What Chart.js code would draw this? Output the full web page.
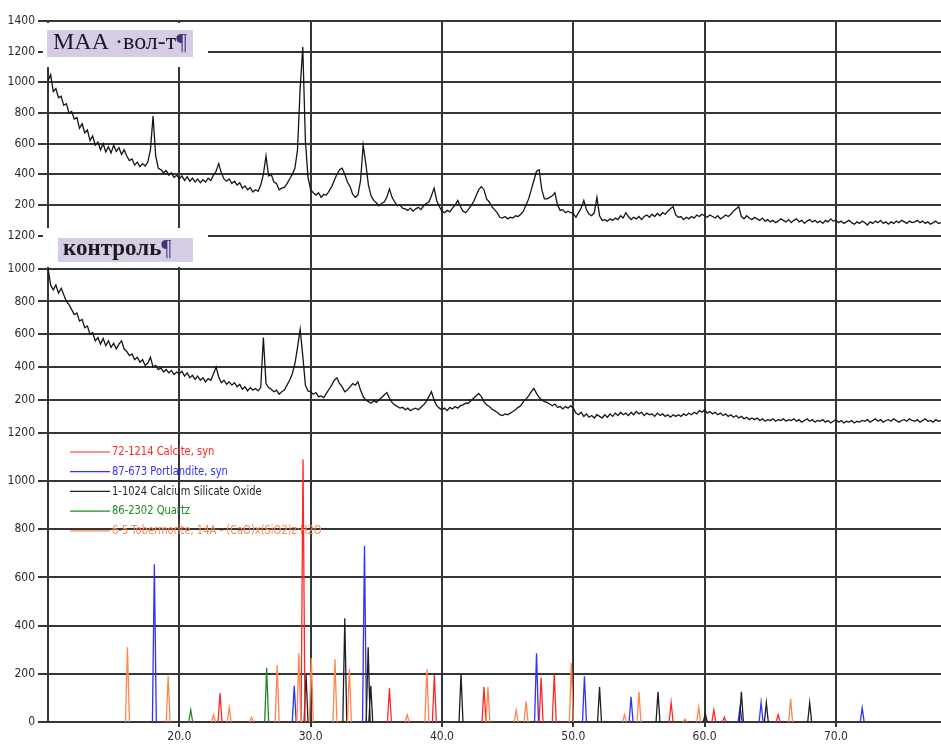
<!DOCTYPE html>
<html lang="ru">
<head>
<meta charset="utf-8">
<title>XRD</title>
<script src="https://cdn.jsdelivr.net/npm/chart.js@4.4.1/dist/chart.umd.min.js"></script>
<style>
  html, body { margin: 0; padding: 0; background: #ffffff; }
  #wrap { width: 941px; height: 749px; position: relative; }
  canvas { display: block; }
</style>
</head>
<body>
<div id="wrap"><canvas id="xrd" width="941" height="749"></canvas></div>
<script>
// ---- scan axis (2θ, degrees) ----
const scanStart = 10.0;
const scanStep = 0.2;

// ---- measured intensities, counts ----
const countsMaa = [
  1010,1050,940,960,900,910,850,860,800,810,
  760,770,700,730,670,690,620,650,590,610,
  560,600,545,580,540,590,550,575,530,560,
  520,490,500,460,480,450,470,455,480,560,
  780,520,440,430,410,425,395,410,380,395,
  370,390,360,385,355,375,350,370,345,365,
  350,375,360,395,420,470,410,370,355,370,
  340,355,330,345,310,325,300,315,285,300,
  290,330,400,520,390,400,350,340,300,310,
  315,340,370,400,440,560,960,1230,620,380,
  300,280,265,280,250,270,265,290,320,360,
  400,430,440,400,350,320,270,250,265,360,
  590,470,330,260,230,215,195,210,220,250,
  305,250,220,195,200,180,175,165,180,160,
  175,185,170,195,210,220,260,310,230,190,
  160,150,165,155,180,200,230,190,160,150,
  170,195,220,260,300,320,300,240,220,190,
  170,150,120,115,125,110,120,115,130,125,
  140,160,200,240,300,360,420,430,300,240,
  240,250,260,280,200,165,170,150,160,150,
  145,120,150,180,230,170,140,130,150,250,
  130,100,105,95,110,100,115,105,130,115,
  150,125,105,120,110,125,105,125,135,120,
  140,125,145,130,150,140,160,175,190,135,
  120,125,105,120,110,125,115,135,125,140,
  130,120,135,125,115,130,110,120,135,125,
  140,160,175,190,125,110,130,115,105,120,
  110,100,115,95,105,90,100,85,95,110,
  100,90,105,85,100,110,90,100,80,95,
  105,90,100,85,95,80,100,90,110,95,
  100,85,95,80,90,100,85,75,90,80,
  95,85,70,90,80,95,85,100,80,90,
  75,90,80,95,85,100,90,80,95,85,
  90,100,85,95,80,90,75,85,95,80,
  85
];

const countsControl = [
  1000,900,870,900,850,880,840,800,780,750,
  720,730,680,690,640,650,600,610,560,580,
  540,575,530,560,520,545,510,540,560,510,
  495,470,480,445,460,430,445,410,425,460,
  400,410,385,395,370,385,365,380,355,370,
  360,375,345,365,335,350,325,345,320,335,
  310,330,320,360,400,340,305,320,295,310,
  290,305,280,295,265,280,255,275,260,270,
  255,275,580,300,275,265,250,260,235,250,
  260,290,320,360,420,520,630,470,290,255,
  250,235,245,220,225,215,240,265,290,320,
  335,300,280,250,260,280,300,290,310,260,
  220,200,190,180,195,185,200,215,230,245,
  210,185,170,160,150,155,140,150,135,145,
  150,140,155,170,190,220,250,200,165,150,
  140,150,135,155,145,160,150,165,170,180,
  180,195,210,225,240,220,190,170,160,145,
  135,125,110,105,115,110,120,130,140,155,
  165,190,205,225,250,270,240,215,200,190,
  185,175,165,175,155,160,145,160,150,165,
  150,120,110,125,100,115,95,105,90,110,
  100,90,110,95,115,100,120,105,125,110,
  120,105,125,110,130,115,125,105,120,110,
  115,100,120,105,115,100,110,95,110,100,
  110,100,115,105,120,110,125,115,135,125,
  140,120,130,115,125,110,120,105,115,100,
  110,95,105,90,100,85,95,80,90,80,
  90,75,85,70,80,75,85,70,80,75,
  85,70,80,75,85,70,80,65,75,85,
  70,80,65,75,70,80,65,75,60,70,
  80,65,75,60,70,65,75,60,70,65,
  75,70,80,65,75,85,70,80,65,75,
  80,70,85,75,65,75,80,70,85,75,
  70,80,65,75,85,70,75,65,80,70,
  75
];

// ---- reference patterns: 2θ position and relative intensity ----
const calcitePos = [23.1, 29.42, 36.0, 39.42, 43.2, 47.55, 48.55, 57.45, 60.7, 61.5, 65.6];
const calciteInt = [120, 1090, 140, 195, 145, 185, 200, 80, 50, 20, 30];

const portlanditePos = [18.1, 28.75, 34.1, 47.2, 50.85, 54.4, 62.7, 64.3, 72.0];
const portlanditeInt = [655, 150, 730, 285, 190, 105, 62, 80, 58];

const silicateOxidePos = [29.65, 32.6, 34.38, 34.58, 41.45, 52.0, 56.45, 60.05, 62.8, 64.7, 68.0];
const silicateOxideInt = [200, 430, 310, 150, 200, 145, 125, 35, 125, 80, 80];

const quartzPos = [20.87, 26.65];
const quartzInt = [50, 225];

const tobermoritePos = [16.05, 19.15, 22.6, 23.8, 25.5, 27.45, 29.1, 30.05, 31.85, 32.95, 37.35,
                        38.85, 43.5, 45.65, 46.4, 49.85, 53.9, 55.0, 58.5, 59.55, 66.55];
const tobermoriteInt = [310, 190, 30, 60, 20, 235, 285, 265, 260, 220, 30,
                        220, 145, 50, 85, 245, 30, 125, 12, 62, 95];

// ---- axis ticks and captions ----
const twoThetaTicks = [20, 30, 40, 50, 60, 70];
const panelCaptions = ['МАА ·вол-т', 'контроль'];
const phaseLabels = [
  '72-1214 Calcite, syn',
  '87-673 Portlandite, syn',
  '1-1024 Calcium Silicate Oxide',
  '86-2302 Quartz',
  '6-5 Tobermorite, 14A - (CaO)x(SiO2)z·H2O'
];
const phaseColors = ['#ff2626', '#3030ff', '#1e1e1e', '#1f8c1f', '#ff8450'];

// ---- helpers ----
function scanPoints(counts) {
  return counts.map((c, i) => ({ x: +(scanStart + i * scanStep).toFixed(2), y: c }));
}
// each reference line is drawn as a narrow spike standing on the baseline
const SPIKE_HALF = 0.15;
function spikePoints(pos, ints) {
  const pts = [];
  pos.forEach((p, i) => {
    pts.push({ x: p - SPIKE_HALF, y: 0 }, { x: p, y: ints[i] }, { x: p + SPIKE_HALF, y: 0 }, { x: p, y: null });
  });
  return pts;
}

const narrowFont = "'Liberation Sans Narrow', 'Arial Narrow', 'DejaVu Sans Condensed', 'Liberation Sans', sans-serif";
const serifFont = "'Liberation Serif', 'Times New Roman', serif";
const gridColor = '#363636';

const phaseData = [
  [calcitePos, calciteInt],
  [portlanditePos, portlanditeInt],
  [silicateOxidePos, silicateOxideInt],
  [quartzPos, quartzInt],
  [tobermoritePos, tobermoriteInt]
];

// draw order: tobermorite first so the stronger phases sit on top
const phaseOrder = [4, 3, 0, 2, 1];

const datasets = [
  {
    label: panelCaptions[0], data: scanPoints(countsMaa), yAxisID: 'yTop',
    borderColor: '#151515', borderWidth: 1.3, pointRadius: 0, tension: 0
  },
  {
    label: panelCaptions[1], data: scanPoints(countsControl), yAxisID: 'yMid',
    borderColor: '#151515', borderWidth: 1.3, pointRadius: 0, tension: 0
  }
];
phaseOrder.forEach(k => {
  datasets.push({
    label: phaseLabels[k], data: spikePoints(phaseData[k][0], phaseData[k][1]), yAxisID: 'yBot',
    borderColor: phaseColors[k], borderWidth: 1.3, pointRadius: 0, tension: 0, spanGaps: false
  });
});

function yAxis(max, weight, keepZero) {
  return {
    type: 'linear', position: 'left', stack: 'xrd', stackWeight: weight,
    min: 0, max: max,
    afterFit(scale) { scale.width = 48; },
    afterBuildTicks(scale) {
      if (!keepZero) scale.ticks = scale.ticks.filter(t => t.value !== 0);
    },
    grid: { color: gridColor, lineWidth: 2, tickLength: 10, drawTicks: true },
    border: { display: true, color: gridColor, width: 2 },
    ticks: {
      stepSize: 200, color: '#2a2a2a', padding: 3,
      font: { family: narrowFont, size: 12 },
      callback: v => String(v)
    }
  };
}

// captions of the two measured patterns and the phase legend
const overlayPlugin = {
  id: 'overlayPlugin',
  afterDatasetsDraw(chart) {
    const ctx = chart.ctx;
    ctx.save();

    // caption boxes
    const boxes = [
      { clear: [43, 23, 165, 44], fill: [47, 30, 146, 27], tx: 53, ty: 49, size: 24, weight: 'normal', text: panelCaptions[0] },
      { clear: [43, 228, 165, 39], fill: [58, 238, 135, 24], tx: 63, ty: 255, size: 23, weight: 'bold', text: panelCaptions[1] }
    ];
    boxes.forEach(b => {
      ctx.fillStyle = '#ffffff';
      ctx.fillRect(...b.clear);
      ctx.fillStyle = '#d6cce4';
      ctx.fillRect(...b.fill);
      ctx.font = `${b.weight} ${b.size}px ${serifFont}`;
      ctx.textBaseline = 'alphabetic';
      ctx.textAlign = 'left';
      ctx.fillStyle = '#1c1a22';
      ctx.fillText(b.text, b.tx, b.ty);
      const w = ctx.measureText(b.text).width;
      ctx.fillStyle = '#3d3577';
      ctx.font = `normal ${b.size}px ${serifFont}`;
      ctx.fillText('¶', b.tx + w, b.ty);
    });

    // phase legend, set in a condensed face
    ctx.font = `12px ${narrowFont}`;
    ctx.textBaseline = 'middle';
    phaseLabels.forEach((lab, k) => {
      const y = 452 + k * 19.7;
      ctx.strokeStyle = phaseColors[k];
      ctx.lineWidth = 1.2;
      ctx.beginPath();
      ctx.moveTo(70, y);
      ctx.lineTo(110, y);
      ctx.stroke();
      ctx.fillStyle = phaseColors[k];
      ctx.save();
      ctx.translate(112, y);
      ctx.scale(0.92, 1);
      ctx.fillText(lab, 0, 0);
      ctx.restore();
    });
    ctx.restore();
  }
};

new Chart(document.getElementById('xrd'), {
  type: 'line',
  data: { datasets },
  options: {
    responsive: false,
    animation: false,
    devicePixelRatio: 1,
    layout: { padding: { top: 21, right: 0, bottom: 0, left: 0 } },
    plugins: { legend: { display: false }, tooltip: { enabled: false } },
    elements: { point: { radius: 0 }, line: { tension: 0 } },
    scales: {
      x: {
        type: 'linear', position: 'bottom', min: 10, max: 78,
        afterFit(scale) { scale.height = 27; },
        afterBuildTicks(scale) { scale.ticks = twoThetaTicks.map(v => ({ value: v })); },
        grid: { color: gridColor, lineWidth: 2, tickLength: 5, drawTicks: true },
        border: { display: true, color: gridColor, width: 2 },
        ticks: {
          color: '#2a2a2a', padding: 3, maxRotation: 0, autoSkip: false,
          font: { family: narrowFont, size: 12 },
          callback: v => Number(v).toFixed(1)
        }
      },
      // stacked panels are listed bottom-up
      yBot: yAxis(1200, 289.2, true),
      yMid: yAxis(1200, 197.1, false),
      yTop: yAxis(1400, 214.7, false)
    }
  },
  plugins: [overlayPlugin]
});
</script>
</body>
</html>
